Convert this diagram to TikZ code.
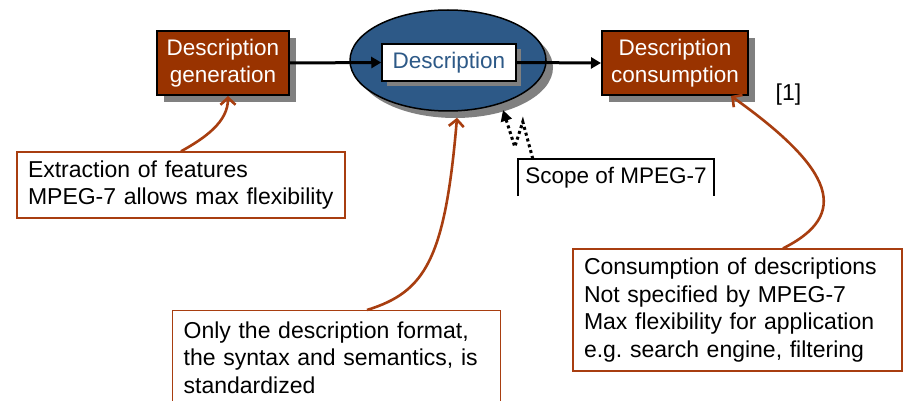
\documentclass[tikz,border=0pt]{standalone}
\usepackage{fontspec}
\setmainfont{Liberation Sans}
\usetikzlibrary{shapes.geometric,shadows,arrows.meta,calc}
\definecolor{boxbrown}{RGB}{153,51,0}
\definecolor{ellblue}{RGB}{45,89,135}
\definecolor{shadowgray}{RGB}{128,128,128}
\definecolor{callbrown}{RGB}{168,62,16}
\frenchspacing
\begin{document}
\begin{tikzpicture}[x=1pt,y=-1pt,
  procbox/.style={draw=black, line width=2pt, fill=boxbrown, text=white, align=center,
    font=\fontsize{22.5}{27}\selectfont, minimum height=64pt, inner sep=0pt,
    drop shadow={shadow xshift=7pt, shadow yshift=-7pt, fill=shadowgray, opacity=1}},
  scopeell/.style={ellipse, draw=black, line width=1.5pt, fill=ellblue, minimum width=196pt,
    minimum height=101pt, inner sep=0pt,
    drop shadow={shadow xshift=7pt, shadow yshift=-7pt, fill=shadowgray, opacity=1}},
  descbox/.style={draw=black, line width=1.5pt, fill=white, text=ellblue,
    font=\fontsize{22.5}{26}\selectfont, minimum width=134pt, minimum height=37pt, inner sep=0pt,
    drop shadow={shadow xshift=5pt, shadow yshift=-5pt, fill=shadowgray, opacity=1}},
  callout/.style={draw=callbrown, line width=1.3pt, align=left, inner xsep=11pt,
    font=\fontsize{23}{27.7}\selectfont},
  callarrow/.style={draw=callbrown, line width=2.6pt, -{Straight Barb[length=7pt,width=15pt]}},
  flowarrow/.style={draw=black, line width=3pt, -{Triangle[length=10pt,width=11pt]}},
  dotarrow/.style={draw=black, line width=3pt, dash pattern=on 3pt off 3pt,
    -{Triangle[length=11pt,width=11pt]}},
  scopelabel/.style={font=\fontsize{22.5}{26}\selectfont, minimum width=196pt, minimum height=37pt, inner sep=0pt}
]
\useasboundingbox (0,0) rectangle (904,401);
\fill[white] (0,0) rectangle (904,401);
\clip (0,0) rectangle (904,401);

% main flow
\node[procbox, minimum width=132pt] (gen) at (223,63) {Description\\generation};
\node[procbox, minimum width=146pt] (cons) at (675,63) {Description\\consumption};
\node[scopeell] (ell) at (448,60.5) {};
\node[descbox] (desc) at (449,62.5) {Description};
\draw[flowarrow] (gen.east) -- (desc.west);
\draw[flowarrow] (desc.east) -- (cons.west);

\node[font=\fontsize{23}{27}\selectfont] (ref) at (788.5,95) {[1]};

% scope of MPEG-7
\node[scopelabel] (scope) at (616,177.5) {Scope of MPEG-7};
\draw[line width=2.5pt] (scope.south west) -- (scope.north west) -- (scope.north east) -- (scope.south east);
\draw[dotarrow] ([xshift=15pt]scope.north west) -- ++(-10,-37) -- ++(-8,25) -- ($(ell.center)+(55,49.5)$);

% callouts
\node[callout, text width=306pt, minimum height=66pt] (c1) at (181,185)
  {Extraction of features\\MPEG-7 allows max flexibility};
\node[callout, text width=306pt, minimum height=94pt, anchor=north west] (c2) at (172,310)
  {Only the description format,\\the syntax and semantics, is\\standardized};
\node[callout, text width=307pt, minimum height=122pt] (c3) at (737.5,310)
  {Consumption of descriptions\\Not specified by MPEG-7\\Max flexibility for application\\e.g. search engine, filtering};

\draw[callarrow] (c1.north) .. controls (205,138) and (228,122) .. ([xshift=5pt]gen.south);
\draw[callarrow] ([xshift=195pt]c2.north west) .. controls (425,292) and (445,260) .. ($(ell.south)+(9,6)$);
\draw[callarrow] ([xshift=45.5pt]c3.north) .. controls (850,215) and (835,170) .. ([xshift=56pt]cons.south);
\end{tikzpicture}
\end{document}
